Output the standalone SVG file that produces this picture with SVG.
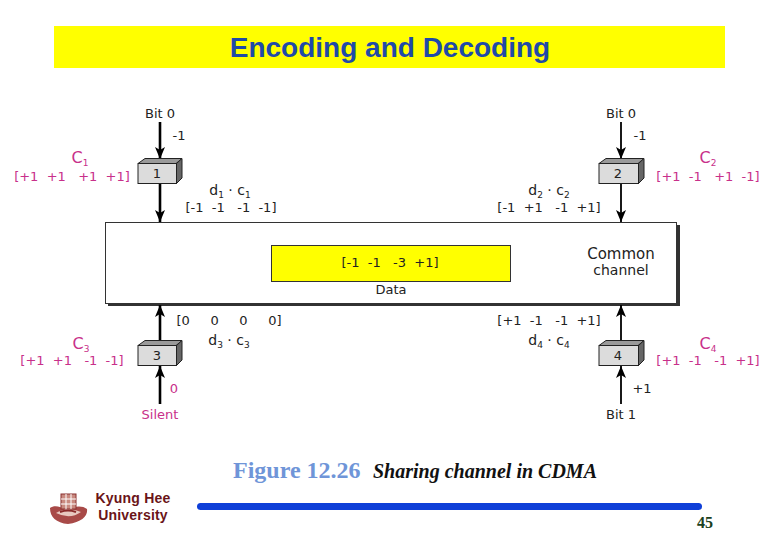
<svg xmlns="http://www.w3.org/2000/svg" width="780" height="540" viewBox="0 0 780 540">
<defs>
<marker id="ah" markerUnits="userSpaceOnUse" markerWidth="14" markerHeight="12" refX="12" refY="5" orient="auto"><path d="M0 0L12 5L0 10L3 5Z" fill="#000"/></marker>
<filter id="sh" x="-2%" y="-5%" width="104%" height="110%"><feGaussianBlur stdDeviation="0.6"/></filter>
</defs>
<style>
text{font-family:"DejaVu Sans","Liberation Sans",sans-serif;font-size:13px;fill:#222;white-space:pre}
.m{text-anchor:middle}
.p{fill:#c8308a}
.sub{font-size:9px}
.big{font-size:16px}
.d{font-size:14px}
.box{fill:#dcdcdc;stroke:#222;stroke-width:1}
.top{fill:#9a9a9a;stroke:#222;stroke-width:1}
.side{fill:#666;stroke:#222;stroke-width:1}
.c{stroke:#000;fill:none;marker-end:url(#ah)}
.l{stroke-width:2.6}
.r{stroke-width:1.8}
.uni{font-family:"Liberation Sans",sans-serif;font-size:14px;font-weight:bold;fill:#6a1418;letter-spacing:.2px}
</style>
<rect width="780" height="540" fill="#fff"/>
<g id="title"><rect x="54" y="26" width="671" height="42" fill="#ffff00"/>
<text x="390" y="57" class="m" style="font-family:'Liberation Sans',Arial,sans-serif;font-size:28px;font-weight:bold;fill:#1f4aa8">Encoding and Decoding</text></g>

<g id="channel">
<rect x="108" y="225" width="572" height="81" fill="#333" filter="url(#sh)"/>
<rect x="105.500" y="222.500" width="571" height="81" fill="#fff" stroke="#333" stroke-width="1"/>
<rect x="271.500" y="245.500" width="239" height="36" fill="#ffff00" stroke="#333" stroke-width="1"/>
<text x="390" y="267" class="m">[-1  -1   -3  +1]</text>
<text x="391" y="294" class="m">Data</text>
<text x="621" y="259" class="m" style="font-size:15px">Common</text>
<text x="621" y="275" class="m" style="font-size:14px">channel</text>
</g>

<g id="connectors">
<path class="c l" d="M160 122V159"/>
<path class="c l" d="M160 184V222"/>
<path class="c r" d="M621 122V159"/>
<path class="c r" d="M621 184V222"/>
<path class="c l" d="M160 343V305"/>
<path class="c l" d="M160 404V366"/>
<path class="c r" d="M621 343V305"/>
<path class="c r" d="M621 404V366"/>
</g>

<g id="node1">
<path class="top" d="M138 163.500L145 158.500H182L176 163.500Z"/><path class="side" d="M176.500 163.500L182 158.500V178L176.500 183.500Z"/>
<rect class="box" x="138" y="163.500" width="38.500" height="20"/>
<text x="157" y="178" class="m">1</text>
<text x="160" y="118" class="m">Bit 0</text><text x="179" y="140" class="m">-1</text>
<text x="80" y="163" class="m p big">C<tspan class="sub p" dy="3">1</tspan></text>
<text x="72" y="181" class="m p">[+1  +1   +1  +1]</text>
<text x="230" y="195" class="m d">d<tspan class="sub" dy="3">1</tspan><tspan dy="-3"> · c</tspan><tspan class="sub" dy="3">1</tspan></text>
<text x="231" y="212" class="m">[-1  -1   -1  -1]</text>
</g>

<g id="node2">
<path class="top" d="M599 163.500L606 158.500H644L638 163.500Z"/><path class="side" d="M638.500 163.500L644 158.500V178L638.500 183.500Z"/>
<rect class="box" x="599" y="163.500" width="39.500" height="20"/>
<text x="618" y="178" class="m">2</text>
<text x="621" y="118" class="m">Bit 0</text><text x="640" y="140" class="m">-1</text>
<text x="708" y="163" class="m p big">C<tspan class="sub p" dy="3">2</tspan></text>
<text x="708" y="181" class="m p">[+1  -1   +1  -1]</text>
<text x="549" y="195" class="m d">d<tspan class="sub" dy="3">2</tspan><tspan dy="-3"> · c</tspan><tspan class="sub" dy="3">2</tspan></text>
<text x="549" y="212" class="m">[-1  +1   -1  +1]</text>
</g>

<g id="node3">
<path class="top" d="M138 345.500L145 340.500H182L176 345.500Z"/><path class="side" d="M176.500 345.500L182 340.500V360L176.500 365.500Z"/>
<rect class="box" x="138" y="345.500" width="38.500" height="20"/>
<text x="157" y="360" class="m">3</text>
<text x="160" y="419" class="m p">Silent</text><text x="174" y="393" class="m p">0</text>
<text x="81" y="349" class="m p big">C<tspan class="sub p" dy="3">3</tspan></text>
<text x="72" y="365" class="m p">[+1  +1   -1  -1]</text>
<text x="229" y="325" class="m">[0     0     0     0]</text>
<text x="229" y="345" class="m d">d<tspan class="sub" dy="3">3</tspan><tspan dy="-3"> · c</tspan><tspan class="sub" dy="3">3</tspan></text>
</g>

<g id="node4">
<path class="top" d="M599 345.500L606 340.500H644L638 345.500Z"/><path class="side" d="M638.500 345.500L644 340.500V360L638.500 365.500Z"/>
<rect class="box" x="599" y="345.500" width="39.500" height="20"/>
<text x="618" y="360" class="m">4</text>
<text x="621" y="419" class="m">Bit 1</text><text x="642" y="393" class="m">+1</text>
<text x="708" y="349" class="m p big">C<tspan class="sub p" dy="3">4</tspan></text>
<text x="708" y="365" class="m p">[+1  -1   -1  +1]</text>
<text x="549" y="325" class="m">[+1  -1   -1  +1]</text>
<text x="549" y="345" class="m d">d<tspan class="sub" dy="3">4</tspan><tspan dy="-3"> · c</tspan><tspan class="sub" dy="3">4</tspan></text>
</g>

<g id="caption">
<text x="233" y="478" style="font-family:'Liberation Serif',serif;font-size:24px;font-weight:bold;fill:#6f95d8">Figure 12.26</text>
<text x="373" y="478" style="font-family:'Liberation Serif',serif;font-size:20px;font-style:italic;font-weight:bold;fill:#111">Sharing channel in CDMA</text>
</g>

<g id="footer">
<g id="logo">
<path d="M50 508C54 505 60 506 66 510C74 506 82 505 87 509C88 516 82 522 68 524C56 523 50 517 50 508Z" fill="#a84a48"/>
<path d="M56 513Q68 506 81 512Q70 520 56 513Z" fill="#e8c8c0"/>
<path d="M60 512Q68 509 76 512" fill="none" stroke="#8a2a2a" stroke-width="2"/>
<rect x="61" y="494" width="15" height="15" fill="#c98a80" stroke="#8a3030"/>
<path d="M61 499H76M61 504H76M66 494V509M71 494V509" stroke="#fff" stroke-width="1"/>
</g>
<text x="133" y="503" class="m uni">Kyung Hee</text>
<text x="133" y="520" class="m uni">University</text>
<rect x="197" y="503" width="505" height="7" rx="3.500" fill="#0f3fd8"/>
<text x="705" y="528" class="m" style="font-family:'Liberation Serif',serif;font-size:16px;font-weight:bold;fill:#1a4020">45</text>
</g>
</svg>
